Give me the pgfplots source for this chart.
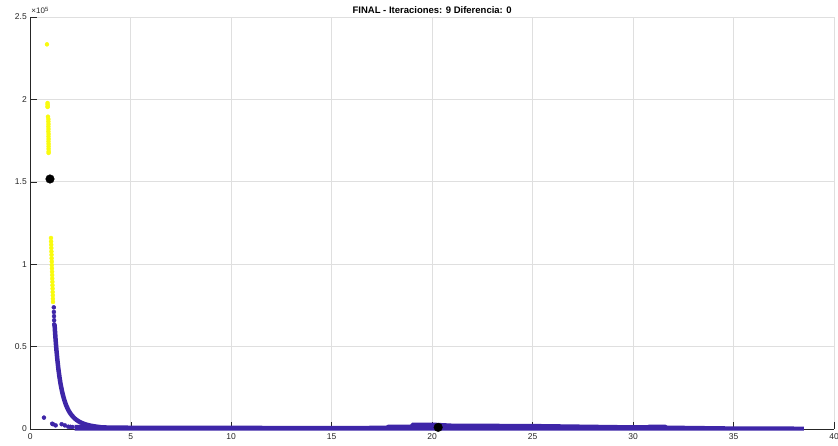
\documentclass[border=0pt]{standalone}
\usepackage{fontspec}
\setmainfont{Liberation Sans}
\usepackage{pgfplots}
\pgfplotsset{compat=1.18}
\definecolor{pblue}{RGB}{62,38,168}
\definecolor{pyel}{RGB}{249,251,14}
\definecolor{axc}{RGB}{38,38,38}
\definecolor{gridc}{RGB}{223,223,223}
\begin{document}
\begin{tikzpicture}
\begin{axis}[
  scale only axis, width=803.7pt, height=412pt,
  xmin=0, xmax=40, ymin=0, ymax=250000,
  axis x line*=bottom, axis y line*=left,
  axis line style={axc, line width=0.5pt, -},
  tick align=inside,
  xtick={0,5,...,40},
  ytick={0,50000,100000,150000,200000,250000},
  yticklabels={0,0.5,1,1.5,2,2.5},
  scaled y ticks=false,
  grid=major, major grid style={gridc, line width=0.6pt},
  major tick length=7pt,
  tick style={axc, line width=0.5pt},
  ticklabel style={font=\fontsize{8.5}{10}\selectfont, text=axc},
  xticklabel style={yshift=-1.5pt},
  /pgf/number format/assume math mode=true,
  every axis title shift=0pt,
  title={\bfseries FINAL - Iteraciones: 9 Diferencia: 0},
  title style={font=\fontsize{9.5}{11}\selectfont, at={(0.5,1)}, anchor=base, inner sep=0pt, yshift=3.5pt},
  clip=false,
]
% flat band of the blue cluster
\addplot[fill=pblue, draw=none] coordinates {
 (2.2,2500)(5,2100)(10,2000)(15,1900)(17.7,2000)(17.8,2600)(18.9,2600)(19.0,3800)(20.2,3800)(21,3300)(25,3100)(30,2300)(30.7,2300)(30.8,2700)(31.6,2700)(31.7,2100)(35,1600)(38.5,1500)(38.5,-1000)(2.2,-1000)} -- cycle;
% steep part of the blue cluster
\addplot[pblue, line width=4.5pt, line cap=round, line join=round] coordinates {
 (1.21,63000)(1.23,59200)(1.26,54000)(1.30,48000)(1.35,41600)(1.40,36200)(1.45,31700)(1.50,27800)(1.55,24600)(1.60,21800)(1.65,19400)(1.70,17300)(1.75,15500)(1.80,13900)(1.90,11300)(2.00,9300)(2.10,7800)(2.20,6500)(2.30,5500)(2.40,4700)(2.50,4000)(2.65,3200)(2.80,2600)(3.00,2000)(3.25,1500)(3.50,1100)};
% separate blue dots
\addplot[pblue, only marks, mark=*, mark size=2pt, mark options={solid, fill=pblue, draw=pblue}] coordinates {
 (1.17,73800)(1.175,71000)(1.18,68500)(1.185,66000)(1.19,63500)
 (0.68,6900)(1.09,3200)(1.13,2900)(1.26,2200)(1.56,2900)(1.72,2200)(1.89,1400)(2.0,1300)(2.1,1200)};
% yellow cluster
\addplot[pyel, only marks, mark=*, mark size=2pt, mark options={solid, fill=pyel, draw=pyel}] coordinates {
 (0.83,233400)
 (0.86,197800)(0.86,196800)(0.865,195800)(0.86,195400)
 (0.88,189500)
 (0.90,188000)(0.90,186500)(0.905,185000)(0.90,183500)(0.905,182000)(0.90,180500)(0.91,179000)(0.905,177500)(0.91,176000)(0.905,174500)(0.91,173000)(0.91,171500)(0.91,170000)(0.915,168500)(0.91,167500)
 (1.030,115900)(1.035,113800)(1.041,111800)(1.046,109800)(1.051,107700)(1.057,105700)(1.062,103600)(1.067,101600)(1.072,99500)(1.078,97500)(1.083,95400)(1.088,93400)(1.093,91300)(1.099,89300)(1.104,87200)(1.109,85200)(1.114,83100)(1.120,81100)(1.125,79000)(1.130,77100)};
% centroids
\addplot[black, only marks, mark=*, mark size=4.3pt, mark options={solid, fill=black, draw=black}] coordinates {
 (0.98,151700)(20.30,1000)};
\node[anchor=base west, font=\fontsize{8}{9}\selectfont, text=axc, inner sep=0pt] at ([yshift=3pt,xshift=1pt]rel axis cs:0,1) {×10\textsuperscript{5}};
\end{axis}
\pgfresetboundingbox
\useasboundingbox ([shift={(-30.3pt,-17pt)}]current axis.south west) rectangle ([shift={(4pt,17pt)}]current axis.north east);
\end{tikzpicture}
\end{document}
